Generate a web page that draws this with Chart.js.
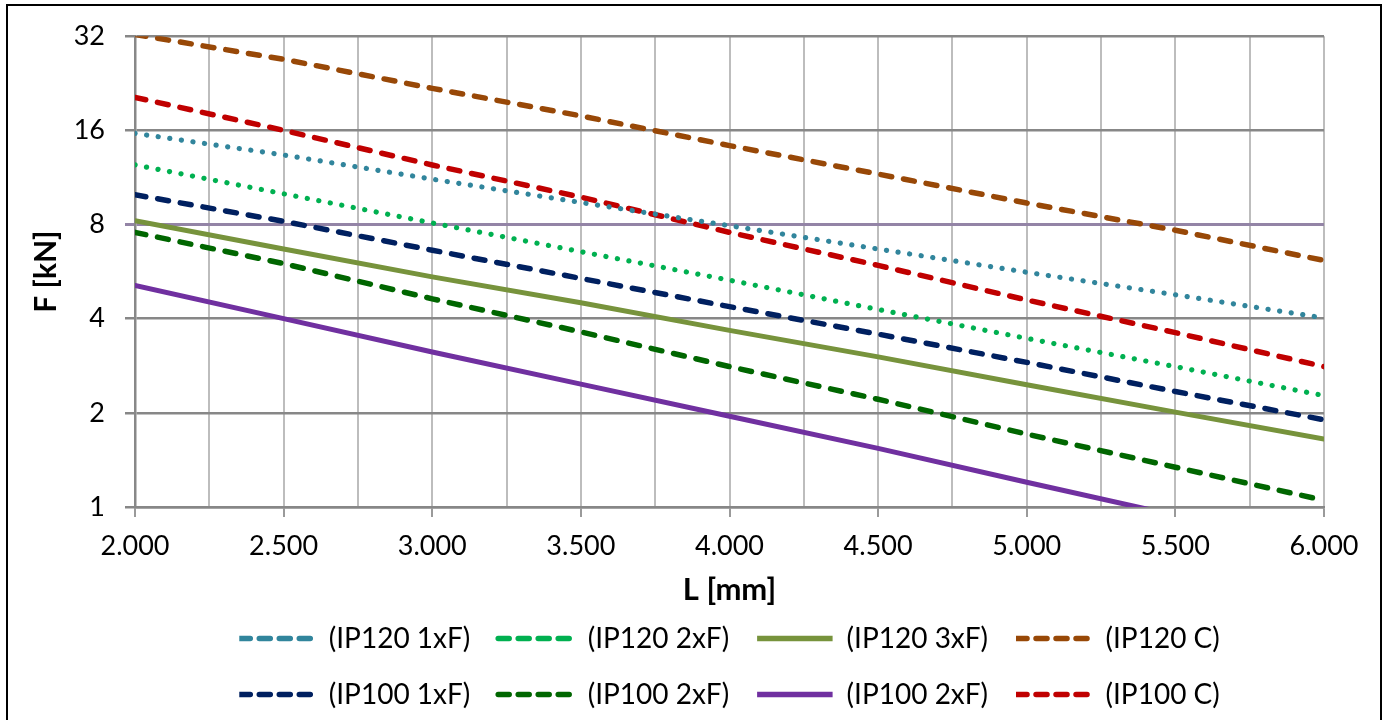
<!DOCTYPE html>
<html><head><meta charset="utf-8">
<script src="https://cdn.jsdelivr.net/npm/chart.js@4.4.1/dist/chart.umd.min.js"></script>
<style>
html,body{margin:0;padding:0;background:#fff;overflow:hidden;width:1383px;height:720px}
#wrap{position:absolute;left:0;top:0;width:1383px;height:720px}
#frame{position:absolute;left:6px;top:4px;width:1376px;height:760px;border:2px solid #000;box-sizing:border-box;pointer-events:none}
</style></head><body>
<div id="wrap"><canvas id="c"></canvas></div>
<div id="frame"></div>
<script>
// ---- data ----
const lengthMm    = [2000, 2500, 3000, 3500, 4000, 4500, 5000, 5500, 6000];
const xTickLabels = ['2.000','2.500','3.000','3.500','4.000','4.500','5.000','5.500','6.000'];
const yTickValues = [1, 2, 4, 8, 16, 32];
const seriesLabels = ['(IP120 1xF)','(IP120 2xF)','(IP120 3xF)','(IP120 C)','(IP100 1xF)','(IP100 2xF)','(IP100 2xF)','(IP100 C)'];
const ip120_1xF  = [15.65, 13.35, 11.17, 9.41, 7.93, 6.68, 5.63, 4.77, 4.02];
const ip120_2xF  = [12.41, 10.03, 8.09, 6.55, 5.31, 4.28, 3.46, 2.81, 2.27];
const ip120_3xF  = [8.23, 6.68, 5.44, 4.50, 3.67, 3.02, 2.46, 2.01, 1.65];
const ip120_C    = [32.4, 27.0, 21.8, 17.8, 14.3, 11.6, 9.37, 7.67, 6.14];
const ip100_1xF  = [9.96, 8.19, 6.62, 5.38, 4.37, 3.57, 2.90, 2.34, 1.90];
const ip100_2xF  = [7.55, 6.00, 4.63, 3.63, 2.81, 2.21, 1.71, 1.34, 1.05];
const ip100_2xFb = [5.11, 4.00, 3.13, 2.47, 1.95, 1.54, 1.20, 0.94, 0.74];
const ip100_C    = [20.4, 16.0, 12.4, 9.79, 7.55, 5.92, 4.59, 3.61, 2.81];

const pts = arr => lengthMm.map((x, i) => ({x: x, y: arr[i]}));
const DOT = [0.1, 11.6], DASH = [11, 12];

Chart.defaults.font.family = 'Lato';
Chart.defaults.color = '#000';

const mk = (i, data, color, dash, width) => ({
  label: seriesLabels[i], data: pts(data), borderColor: color, backgroundColor: color,
  borderDash: dash, borderWidth: width, borderCapStyle: 'round', pointRadius: 0,
  pointHoverRadius: 0, tension: 0, fill: false
});

new Chart(document.getElementById('c'), {
  type: 'line',
  data: {
    datasets: [
      mk(0, ip120_1xF, '#31859c', DOT, 5.2),
      mk(1, ip120_2xF, '#00b050', DOT, 5.2),
      mk(2, ip120_3xF, '#77933c', [], 5),
      mk(3, ip120_C,   '#984807', DASH, 5.5),
      mk(4, ip100_1xF, '#002060', DASH, 5.5),
      mk(5, ip100_2xF, '#006600', DASH, 5.5),
      mk(6, ip100_2xFb,'#7030a0', [], 5),
      mk(7, ip100_C,   '#c00000', DASH, 5.5)
    ]
  },
  options: {
    responsive: true, maintainAspectRatio: false, animation: false,
    layout: {padding: {left: 20, right: 59, top: 34, bottom: 1.5}},
    plugins: {
      tooltip: {enabled: false},
      legend: {
        position: 'bottom', fullSize: false,
        labels: {
          font: {size: 28}, color: '#000', boxWidth: 75.5, boxHeight: 0, padding: 28,
          generateLabels: chart => chart.data.datasets.map((ds, i) => ({
            text: ds.label, fillStyle: ds.borderColor, strokeStyle: ds.borderColor,
            lineWidth: 5.5, lineDash: ds.borderDash.length ? [11, 9] : [], lineCap: 'round',
            hidden: false, datasetIndex: i, fontColor: '#000'
          }))
        }
      }
    },
    scales: {
      x: {
        type: 'linear', min: 2000, max: 6000,
        afterFit: s => { s.height = 89.5; },
        ticks: {
          stepSize: 250, autoSkip: false, maxRotation: 0, padding: 13,
          font: {size: 27}, color: '#000',
          callback: v => (v % 500 === 0 ? xTickLabels[(v - 2000) / 500] : '')
        },
        grid: {
          color: '#bdbdbd', lineWidth: 2, tickLength: 10,
          tickColor: c => (c.tick && c.tick.value % 500 === 0 ? '#9a9a9a' : 'rgba(0,0,0,0)')
        },
        border: {display: true, color: '#878787', width: 2.5},
        title: {display: true, text: 'L [mm]', font: {size: 31, weight: 'bold'}, color: '#000', padding: {top: 0, bottom: -12}}
      },
      y: {
        type: 'logarithmic', min: 1, max: 32,
        afterFit: s => { s.width = 115; },
        afterBuildTicks: s => { s.ticks = yTickValues.map(v => ({value: v})); },
        ticks: {
          padding: 20, font: {size: 27}, color: '#000',
          callback: v => String(v)
        },
        grid: {
          color: c => (c.tick && c.tick.value === 8 ? '#9384a6' : '#878787'),
          lineWidth: c => (c.tick && c.tick.value === 8 ? 3 : 2.5),
          tickLength: 10
        },
        border: {display: true, color: '#888888', width: 2.5},
        title: {display: true, text: 'F [kN]', font: {size: 30, weight: 'bold'}, color: '#000', padding: {top: 8, bottom: 0}}
      }
    }
  }
});
</script>
</body></html>
